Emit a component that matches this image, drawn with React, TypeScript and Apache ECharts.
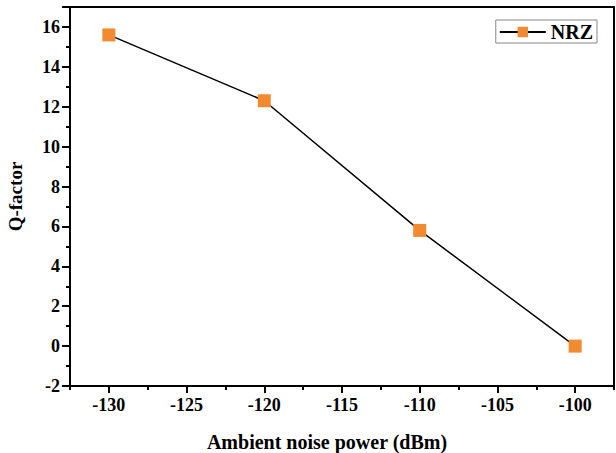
import React, { useEffect, useRef } from "react";
import * as echarts from "echarts";

const noisePower = [-130, -120, -110, -100];
const qFactor = [15.6, 12.3, 5.8, 0];
const seriesName = "NRZ";
const xTitle = "Ambient noise power (dBm)";
const yTitle = "Q-factor";
const xTickLabels = [-130, -125, -120, -115, -110, -105, -100];

export default function App() {
  const ref = useRef<HTMLDivElement>(null);
  useEffect(() => {
    if (!ref.current) return;
    const chart = echarts.init(ref.current, null, { renderer: "svg" });
    const font = "'Liberation Serif', 'Times New Roman', serif";
    chart.setOption({
      animation: false,
      textStyle: { fontFamily: font },
      grid: {
        left: 70,
        top: 7,
        right: 2,
        bottom: 67,
        containLabel: false,
        outerBoundsMode: "none",
        show: true,
        borderColor: "#000",
        borderWidth: 2,
      },
      legend: {
        right: 19,
        top: 20,
        orient: "vertical",
        borderColor: "#888",
        borderWidth: 1,
        borderRadius: 0,
        padding: [2, 4, 1, 3],
        itemWidth: 46,
        itemHeight: 13,
        textStyle: { fontFamily: font, fontWeight: "bold", fontSize: 20, color: "#000" },
        data: [seriesName],
      },
      xAxis: {
        type: "value",
        min: -132.5,
        max: -97.5,
        interval: 5,
        name: xTitle,
        nameLocation: "middle",
        nameGap: 46,
        nameTextStyle: {
          fontFamily: font,
          fontWeight: "bold",
          fontSize: 20,
          color: "#000",
          padding: [0, 30, 0, 0],
        },
        axisLine: { show: true, onZero: false, lineStyle: { color: "#000", width: 2 } },
        // ticks every 5 starting at min are the short ones; the "minor" ticks between them fall on the labelled values
        axisTick: { show: true, inside: false, length: 4, lineStyle: { color: "#000", width: 2 } },
        minorTick: { show: true, splitNumber: 2, length: 7, lineStyle: { color: "#000", width: 2 } },
        splitLine: { show: false },
        axisLabel: {
          fontFamily: font,
          fontWeight: "bold",
          fontSize: 18,
          color: "#000",
          margin: 10,
          customValues: xTickLabels,
        },
      },
      yAxis: {
        type: "value",
        min: -2,
        max: 17,
        interval: 2,
        name: yTitle,
        nameLocation: "middle",
        nameGap: 45,
        nameTextStyle: { fontFamily: font, fontWeight: "bold", fontSize: 19, color: "#000" },
        axisLine: { show: true, onZero: false, lineStyle: { color: "#000", width: 2 } },
        axisTick: { show: true, inside: false, length: 8, lineStyle: { color: "#000", width: 2 } },
        minorTick: { show: true, splitNumber: 2, length: 4, lineStyle: { color: "#000", width: 2 } },
        splitLine: { show: false },
        axisLabel: {
          fontFamily: font,
          fontWeight: "bold",
          fontSize: 18,
          color: "#000",
          margin: 10,
          showMaxLabel: false,
        },
      },
      series: [
        {
          name: seriesName,
          type: "line",
          data: noisePower.map((x, i) => [x, qFactor[i]]),
          symbol: "rect",
          symbolSize: 13,
          itemStyle: { color: "#F28A30" },
          lineStyle: { color: "#000", width: 1.5 },
        },
      ],
    });
    return () => chart.dispose();
  }, []);
  return <div ref={ref} style={{ width: 616, height: 453, position: "absolute", left: 0, top: 0 }} />;
}
